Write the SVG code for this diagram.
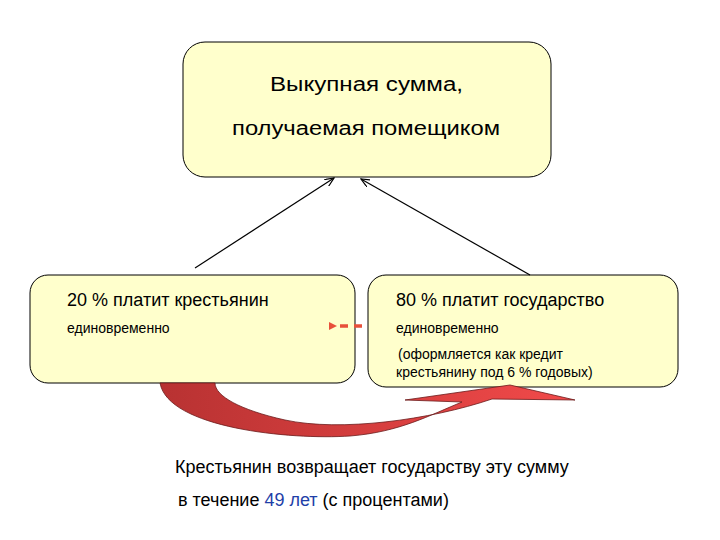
<svg xmlns="http://www.w3.org/2000/svg" width="720" height="540" viewBox="0 0 720 540">
<defs>
<style>
.box{fill:#ffffcc;stroke:#000;stroke-width:1}
text{font-family:"Liberation Sans",Arial,sans-serif;fill:#000}
.b{font-size:18px}.s{font-size:14px}.t{font-size:20px}
</style>
<marker id="ah" markerWidth="10" markerHeight="8" refX="9" refY="4" orient="auto" markerUnits="userSpaceOnUse"><path d="M0,0 L9,4 L0,8" fill="none" stroke="#000" stroke-width="1.2"/></marker>
<marker id="rh" markerWidth="8" markerHeight="8" refX="1" refY="4" orient="auto" markerUnits="userSpaceOnUse"><path d="M8,0 L0,4 L8,8 Z" fill="#e8503a"/></marker>
<linearGradient id="g" x1="0" y1="0" x2="1" y2="0"><stop offset="0" stop-color="#b83232"/><stop offset="1" stop-color="#f24a4a"/></linearGradient>
</defs>
<rect width="720" height="540" fill="#fff"/>
<g id="top"><rect class="box" x="183" y="42" width="368" height="135" rx="22"/>
<text class="t" x="270" y="91" textLength="193" lengthAdjust="spacingAndGlyphs">Выкупная сумма,</text>
<text class="t" x="232" y="135" textLength="268" lengthAdjust="spacingAndGlyphs">получаемая помещиком</text></g>
<g id="left"><rect class="box" x="30" y="275" width="325" height="108" rx="18"/>
<text class="b" x="67" y="306">20 % платит крестьянин</text>
<text class="s" x="67" y="333">единовременно</text></g>
<g id="right"><rect class="box" x="368" y="275" width="310" height="112" rx="18"/>
<text class="b" x="396" y="306">80 % платит государство</text>
<text class="s" x="396" y="333">единовременно</text>
<text class="s" x="398" y="359">(оформляется как кредит</text>
<text class="s" x="396" y="377">крестьянину под 6 % годовых)</text></g>
<g id="connectors">
<line x1="195" y1="268" x2="334" y2="178" stroke="#000" stroke-width="1.2" marker-end="url(#ah)"/>
<line x1="530" y1="275" x2="361" y2="179" stroke="#000" stroke-width="1.2" marker-end="url(#ah)"/>
<line x1="362" y1="326" x2="336" y2="326" stroke="#e8503a" stroke-width="3.5" stroke-dasharray="8,6" marker-end="url(#rh)"/>
<path d="M160,383 C168,428 290,440 350,436 C400,432 430,415 462,402 L405,400 L510,385 L575,400 L492,399 C430,420 340,432 285,420 C240,410 215,396 215,383 Z" fill="url(#g)" stroke="#6b1a1a" stroke-width="0.8"/>
</g>
<g id="caption">
<text class="b" x="175" y="473">Крестьянин возвращает государству  эту сумму</text>
<text class="b" x="178" y="506">в течение <tspan fill="#1f3fa8">49 лет</tspan> (с процентами)</text></g>
</svg>
